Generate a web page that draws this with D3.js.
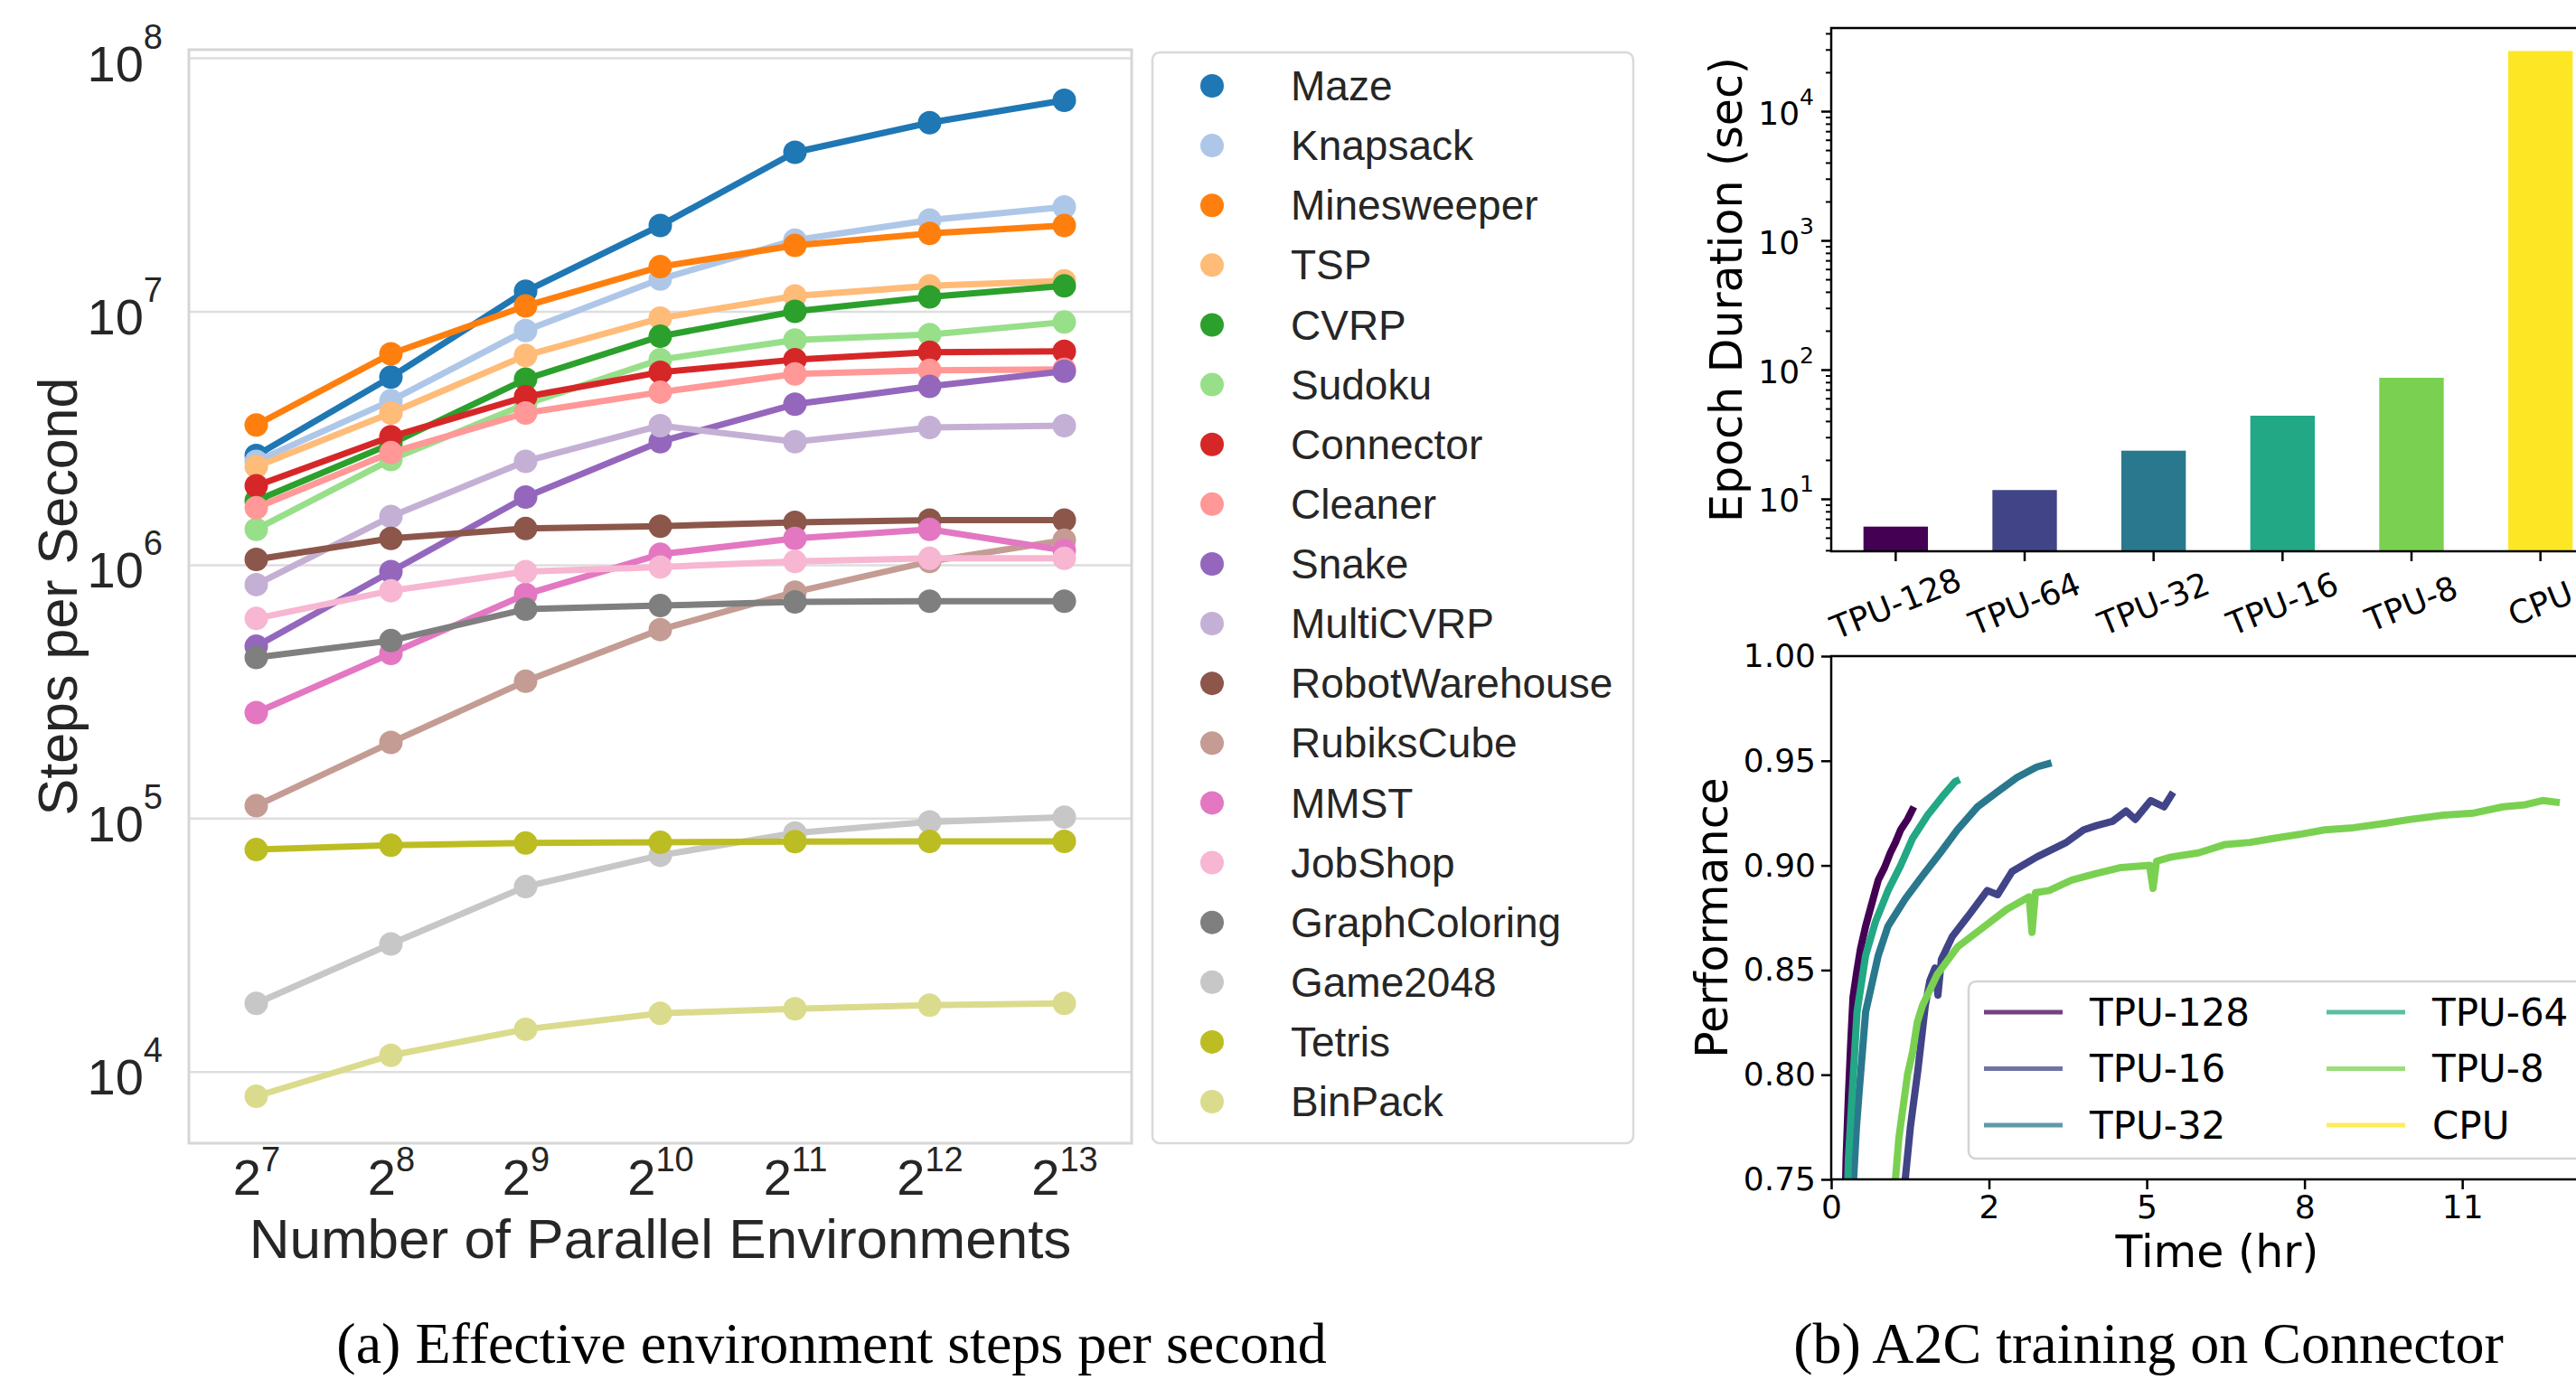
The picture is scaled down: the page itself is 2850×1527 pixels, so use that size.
<!DOCTYPE html>
<html>
<head>
<meta charset="utf-8">
<script src="https://cdn.jsdelivr.net/npm/d3@7"></script>
<style>
  body { margin: 0; background: #fff; }
  svg { display: block; }
</style>
</head>
<body>
<svg id="fig" width="2850" height="1527"></svg>
<script>
// ---------- (a) steps per second ----------
var envExp = [7, 8, 9, 10, 11, 12, 13];
var envNames = ["Maze", "Knapsack", "Minesweeper", "TSP", "CVRP", "Sudoku", "Connector", "Cleaner",
    "Snake", "MultiCVRP", "RobotWarehouse", "RubiksCube", "MMST", "JobShop", "GraphColoring",
    "Game2048", "Tetris", "BinPack"];
var envColors = ["#1f77b4", "#aec7e8", "#ff7f0e", "#ffbb78", "#2ca02c", "#98df8a", "#d62728", "#ff9896",
    "#9467bd", "#c5b0d5", "#8c564b", "#c49c94", "#e377c2", "#f7b6d2", "#7f7f7f", "#c7c7c7", "#bcbd22", "#dbdb8d"];

var maze           = [2.7e6, 5.5e6, 1.2e7, 2.18e7, 4.24e7, 5.55e7, 6.8e7];
var knapsack       = [2.56e6, 4.44e6, 8.4e6, 1.34e7, 1.91e7, 2.29e7, 2.58e7];
var minesweeper    = [3.56e6, 6.8e6, 1.05e7, 1.5e7, 1.82e7, 2.03e7, 2.18e7];
var tsp            = [2.44e6, 3.97e6, 6.7e6, 9.4e6, 1.15e7, 1.26e7, 1.32e7];
var cvrp           = [1.79e6, 3.0e6, 5.4e6, 7.97e6, 1.0e7, 1.14e7, 1.26e7];
var sudoku         = [1.38e6, 2.6e6, 4.3e6, 6.45e6, 7.7e6, 8.1e6, 9.07e6];
var connector      = [2.05e6, 3.2e6, 4.6e6, 5.75e6, 6.45e6, 6.9e6, 6.95e6];
var cleaner        = [1.68e6, 2.77e6, 3.97e6, 4.8e6, 5.66e6, 5.85e6, 5.9e6];
var snake          = [4.77e5, 9.4e5, 1.85e6, 3.06e6, 4.3e6, 5.06e6, 5.8e6];
var multiCvrp      = [8.35e5, 1.55e6, 2.56e6, 3.54e6, 3.06e6, 3.48e6, 3.54e6];
var robotWarehouse = [1.05e6, 1.27e6, 1.39e6, 1.42e6, 1.47e6, 1.5e6, 1.5e6];
var rubiksCube     = [1.12e5, 1.99e5, 3.47e5, 5.55e5, 7.8e5, 1.03e6, 1.25e6];
var mmst           = [2.61e5, 4.47e5, 7.64e5, 1.1e6, 1.27e6, 1.38e6, 1.14e6];
var jobShop        = [6.14e5, 7.9e5, 9.4e5, 9.8e5, 1.03e6, 1.06e6, 1.06e6];
var graphColoring  = [4.31e5, 5.02e5, 6.68e5, 6.9e5, 7.14e5, 7.18e5, 7.18e5];
var game2048       = [1.86e4, 3.19e4, 5.37e4, 7.14e4, 8.75e4, 9.67e4, 1.01e5];
var tetris         = [7.52e4, 7.82e4, 7.98e4, 8.04e4, 8.09e4, 8.1e4, 8.1e4];
var binPack        = [8.0e3, 1.16e4, 1.47e4, 1.7e4, 1.77e4, 1.83e4, 1.86e4];

var envSeries = [maze, knapsack, minesweeper, tsp, cvrp, sudoku, connector, cleaner, snake, multiCvrp,
    robotWarehouse, rubiksCube, mmst, jobShop, graphColoring, game2048, tetris, binPack];
var yTicksA = [1e4, 1e5, 1e6, 1e7, 1e8];

// ---------- (b) A2C on Connector ----------
var devices = ["TPU-128", "TPU-64", "TPU-32", "TPU-16", "TPU-8", "CPU"];
var epochSec = [6.1, 11.7, 23.6, 44, 86.5, 29200];
var barColors = ["#440154", "#414487", "#2a788e", "#22a884", "#7ad151", "#fde725"];

// curves, in legend order: TPU-128, TPU-16, TPU-32, TPU-64, TPU-8, CPU  [hours, performance]
var curveNames = ["TPU-128", "TPU-16", "TPU-32", "TPU-64", "TPU-8", "CPU"];
var curveColors = ["#440154", "#414487", "#2a788e", "#22a884", "#7ad151", "#fde725"];
var tpu128 = [[0.24, 0.735], [0.26, 0.76], [0.30, 0.79], [0.34, 0.815], [0.38, 0.837], [0.45, 0.85],
    [0.51, 0.86], [0.60, 0.871], [0.69, 0.88], [0.82, 0.893], [0.93, 0.899], [1.03, 0.906],
    [1.12, 0.911], [1.21, 0.917], [1.33, 0.922], [1.44, 0.928]];
var tpu16 = [[1.27, 0.74], [1.29, 0.75], [1.38, 0.775], [1.51, 0.802], [1.64, 0.833], [1.72, 0.845],
    [1.81, 0.851], [1.86, 0.838], [1.92, 0.855], [2.11, 0.866], [2.42, 0.877], [2.72, 0.888],
    [2.90, 0.886], [3.15, 0.897], [3.58, 0.904], [4.10, 0.911], [4.40, 0.917], [4.62, 0.919],
    [4.90, 0.921], [5.14, 0.926], [5.30, 0.922], [5.57, 0.931], [5.80, 0.928], [5.96, 0.935]];
var tpu32 = [[0.37, 0.74], [0.39, 0.75], [0.44, 0.775], [0.49, 0.793], [0.60, 0.83], [0.82, 0.857],
    [0.99, 0.871], [1.29, 0.884], [1.59, 0.895], [1.90, 0.906], [2.20, 0.917], [2.55, 0.928],
    [2.89, 0.935], [3.24, 0.942], [3.58, 0.947], [3.84, 0.949]];
var tpu64 = [[0.28, 0.74], [0.30, 0.76], [0.37, 0.793], [0.45, 0.83], [0.60, 0.857], [0.77, 0.873],
    [0.99, 0.888], [1.21, 0.90], [1.42, 0.913], [1.68, 0.924], [1.94, 0.933], [2.16, 0.94], [2.24, 0.941]];
var tpu8 = [[1.10, 0.74], [1.12, 0.75], [1.18, 0.77], [1.25, 0.784], [1.33, 0.80], [1.42, 0.811],
    [1.50, 0.825], [1.59, 0.833], [1.85, 0.848], [2.20, 0.861], [2.63, 0.87], [3.06, 0.879],
    [3.45, 0.885], [3.50, 0.868], [3.56, 0.887], [3.80, 0.888], [4.19, 0.893], [4.60, 0.896],
    [5.05, 0.899], [5.55, 0.90], [5.61, 0.889], [5.67, 0.902], [5.92, 0.904], [6.40, 0.906],
    [6.87, 0.91], [7.30, 0.911], [7.73, 0.913], [8.20, 0.915], [8.60, 0.917], [9.10, 0.918],
    [9.63, 0.92], [10.10, 0.922], [10.67, 0.924], [11.20, 0.925], [11.71, 0.928], [12.10, 0.929],
    [12.40, 0.931], [12.70, 0.93]];
var cpu = [];
var curves = [tpu128, tpu16, tpu32, tpu64, tpu8, cpu];
var xTicksB = [0, 2.75, 5.5, 8.25, 11];
var yTicksB = [0.75, 0.80, 0.85, 0.90, 0.95, 1.00];

var svg = d3.select('#fig');
svg.append('rect').attr('width', 2850).attr('height', 1527).attr('fill', 'white');

var sans = 'Liberation Sans, Arial, sans-serif';
var dejavu = 'DejaVu Sans, sans-serif';

function puissance(texte, base, exposant, taille, tailleExp, dyBase, dyExp) {
    texte.text(null).attr('dy', null);
    texte.append('tspan').attr('font-size', taille).attr('dy', dyBase).text(base);
    texte.append('tspan').attr('font-size', tailleExp).attr('dy', dyExp).text(exposant);
}

// ===== panel (a) =====
var cadreA = {gauche: 209, droite: 1252, haut: 55, bas: 1265};
var xScale = d3.scaleLinear().domain([6.5, 13.5]).range([cadreA.gauche, cadreA.droite]);
var yScale = d3.scaleLog().domain([5220, 1.077e8]).range([cadreA.bas, cadreA.haut]);

var yAxisA = g => g
    .attr('transform', `translate(${cadreA.gauche},0)`)
    .call(d3.axisLeft(yScale).tickValues(yTicksA).tickSize(-(cadreA.droite - cadreA.gauche)).tickPadding(29).tickFormat(''))
    .call(g => g.select('.domain').remove())
    .call(g => g.selectAll('.tick line').attr('stroke', '#dedede').attr('stroke-width', 2.5))
    .call(g => g.selectAll('.tick text')
        .attr('fill', '#262626').attr('font-family', sans)
        .each(function(d) { puissance(d3.select(this), '10', Math.round(Math.log10(d)), 56, 38, 25, -36); }));

var xAxisA = g => g
    .attr('transform', `translate(0,${cadreA.bas})`)
    .call(d3.axisBottom(xScale).tickValues(envExp).tickSize(0).tickFormat(''))
    .call(g => g.select('.domain').remove())
    .call(g => g.selectAll('.tick text')
        .attr('fill', '#262626').attr('font-family', sans).attr('y', 0)
        .each(function(d) { puissance(d3.select(this), '2', d, 56, 38, 57, -26); }));

svg.append('g').call(yAxisA);
svg.append('g').call(xAxisA);

svg.append('rect')
    .attr('x', cadreA.gauche).attr('y', cadreA.haut)
    .attr('width', cadreA.droite - cadreA.gauche).attr('height', cadreA.bas - cadreA.haut)
    .attr('fill', 'none').attr('stroke', '#d6d6d6').attr('stroke-width', 3);

var ligneA = d3.line()
    .x((d, i) => xScale(envExp[i]))
    .y(d => yScale(d));

var groupes = svg.append('g')
    .selectAll('g')
    .data(envSeries)
    .enter()
    .append('g');

groupes.append('path')
    .attr('d', d => ligneA(d))
    .attr('fill', 'none')
    .attr('stroke', (d, i) => envColors[i])
    .attr('stroke-width', 7)
    .attr('stroke-linejoin', 'round');

groupes.selectAll('circle')
    .data((d, i) => d.map((v, j) => ({v: v, j: j, c: envColors[i]})))
    .enter()
    .append('circle')
    .attr('cx', d => xScale(envExp[d.j]))
    .attr('cy', d => yScale(d.v))
    .attr('r', 13)
    .attr('fill', d => d.c);

svg.append('text')
    .attr('transform', `translate(64,${(cadreA.haut + cadreA.bas) / 2}) rotate(-90)`)
    .attr('text-anchor', 'middle').attr('dy', '0.35em')
    .attr('font-family', sans).attr('font-size', 61).attr('fill', '#262626')
    .text('Steps per Second');

svg.append('text')
    .attr('x', (cadreA.gauche + cadreA.droite) / 2).attr('y', 1392)
    .attr('text-anchor', 'middle')
    .attr('font-family', sans).attr('font-size', 62).attr('fill', '#262626')
    .text('Number of Parallel Environments');

// legend (a)
var yLegA = d3.scalePoint().domain(envNames).range([95, 1219]);
svg.append('rect')
    .attr('x', 1275).attr('y', 58).attr('width', 532).attr('height', 1207).attr('rx', 8)
    .attr('fill', 'white').attr('stroke', '#d9d9d9').attr('stroke-width', 2.5);
var legA = svg.append('g').selectAll('g').data(envNames).enter().append('g')
    .attr('transform', d => `translate(0,${yLegA(d)})`);
legA.append('circle').attr('cx', 1341).attr('cy', 0).attr('r', 13).attr('fill', (d, i) => envColors[i]);
legA.append('text').attr('x', 1428).attr('dy', '0.35em')
    .attr('font-family', sans).attr('font-size', 46).attr('fill', '#262626')
    .text(d => d);

// ===== panel (b) top: bars =====
var cadreB = {gauche: 2026, droite: 2882, haut: 31, bas: 610};
var xDev = d3.scaleBand().domain(devices).range([cadreB.gauche, cadreB.droite]).paddingInner(0.5).paddingOuter(0.25);
var yDur = d3.scaleLog().domain([3.93, 4.4e4]).range([cadreB.bas, cadreB.haut]);

svg.append('g')
    .selectAll('rect')
    .data(epochSec)
    .enter()
    .append('rect')
    .attr('x', (d, i) => xDev(devices[i]))
    .attr('width', xDev.bandwidth())
    .attr('y', d => yDur(d))
    .attr('height', d => cadreB.bas - yDur(d))
    .attr('fill', (d, i) => barColors[i]);

var mineurs = yDur.ticks().filter(v => Math.abs(Math.log10(v) - Math.round(Math.log10(v))) > 1e-6);
svg.append('g')
    .attr('transform', `translate(${cadreB.gauche},0)`)
    .call(d3.axisLeft(yDur).tickValues(mineurs).tickSize(6).tickFormat(''))
    .call(g => g.select('.domain').remove())
    .call(g => g.selectAll('.tick line').attr('stroke', '#000').attr('stroke-width', 2));

svg.append('g')
    .attr('transform', `translate(${cadreB.gauche},0)`)
    .call(d3.axisLeft(yDur).tickValues([10, 100, 1000, 10000]).tickSize(11).tickPadding(8).tickFormat(''))
    .call(g => g.select('.domain').remove())
    .call(g => g.selectAll('.tick line').attr('stroke', '#000').attr('stroke-width', 2.5))
    .call(g => g.selectAll('.tick text')
        .attr('fill', '#000').attr('font-family', dejavu)
        .each(function(d) { puissance(d3.select(this), '10', Math.round(Math.log10(d)), 36, 25, 14, -22); }));

svg.append('g')
    .attr('transform', `translate(0,${cadreB.bas})`)
    .call(d3.axisBottom(xDev).tickSize(11))
    .call(g => g.select('.domain').remove())
    .call(g => g.selectAll('.tick line').attr('stroke', '#000').attr('stroke-width', 2.5))
    .call(g => g.selectAll('.tick text')
        .attr('fill', '#000').attr('font-family', dejavu).attr('font-size', 36)
        .attr('y', 0).attr('dy', '0.35em').attr('text-anchor', 'middle')
        .attr('transform', 'translate(0,58) rotate(-22)'));

svg.append('rect')
    .attr('x', cadreB.gauche).attr('y', cadreB.haut)
    .attr('width', cadreB.droite - cadreB.gauche).attr('height', cadreB.bas - cadreB.haut)
    .attr('fill', 'none').attr('stroke', '#000').attr('stroke-width', 2.5);

svg.append('text')
    .attr('transform', `translate(1910,${(cadreB.haut + cadreB.bas) / 2}) rotate(-90)`)
    .attr('text-anchor', 'middle').attr('dy', '0.35em')
    .attr('font-family', dejavu).attr('font-size', 49).attr('fill', '#000')
    .text('Epoch Duration (sec)');

// ===== panel (b) bottom: curves =====
var cadreC = {gauche: 2026, droite: 2886, haut: 726, bas: 1305};
var xTemps = d3.scaleLinear().domain([0, 13.55]).range([cadreC.gauche, cadreC.droite]);
var yPerf = d3.scaleLinear().domain([0.75, 1.0]).range([cadreC.bas, cadreC.haut]);

svg.append('clipPath').attr('id', 'clipC')
    .append('rect')
    .attr('x', cadreC.gauche).attr('y', cadreC.haut)
    .attr('width', cadreC.droite - cadreC.gauche).attr('height', cadreC.bas - cadreC.haut);

var ligneC = d3.line().x(d => xTemps(d[0])).y(d => yPerf(d[1]));
svg.append('g').attr('clip-path', 'url(#clipC)')
    .selectAll('path')
    .data(curves)
    .enter()
    .append('path')
    .attr('d', d => d.length ? ligneC(d) : null)
    .attr('fill', 'none')
    .attr('stroke', (d, i) => curveColors[i])
    .attr('stroke-width', 8)
    .attr('stroke-linejoin', 'round');

svg.append('g')
    .attr('transform', `translate(${cadreC.gauche},0)`)
    .call(d3.axisLeft(yPerf).tickValues(yTicksB).tickSize(11).tickPadding(6).tickFormat(d3.format('.2f')))
    .call(g => g.select('.domain').remove())
    .call(g => g.selectAll('.tick line').attr('stroke', '#000').attr('stroke-width', 2.5))
    .call(g => g.selectAll('.tick text').attr('fill', '#000').attr('font-family', dejavu).attr('font-size', 36));

svg.append('g')
    .attr('transform', `translate(0,${cadreC.bas})`)
    .call(d3.axisBottom(xTemps).tickValues(xTicksB).tickSize(11).tickPadding(6).tickFormat(d => Math.floor(d)))
    .call(g => g.select('.domain').remove())
    .call(g => g.selectAll('.tick line').attr('stroke', '#000').attr('stroke-width', 2.5))
    .call(g => g.selectAll('.tick text').attr('fill', '#000').attr('font-family', dejavu).attr('font-size', 36));

svg.append('rect')
    .attr('x', cadreC.gauche).attr('y', cadreC.haut)
    .attr('width', cadreC.droite - cadreC.gauche).attr('height', cadreC.bas - cadreC.haut)
    .attr('fill', 'none').attr('stroke', '#000').attr('stroke-width', 2.5);

svg.append('text')
    .attr('transform', `translate(1894,${(cadreC.haut + cadreC.bas) / 2}) rotate(-90)`)
    .attr('text-anchor', 'middle').attr('dy', '0.35em')
    .attr('font-family', dejavu).attr('font-size', 49).attr('fill', '#000')
    .text('Performance');

svg.append('text')
    .attr('x', 2453).attr('y', 1385).attr('dy', '0.35em')
    .attr('text-anchor', 'middle')
    .attr('font-family', dejavu).attr('font-size', 49).attr('fill', '#000')
    .text('Time (hr)');

// legend (b)
svg.append('rect')
    .attr('x', 2178).attr('y', 1086).attr('width', 720).attr('height', 196).attr('rx', 8)
    .attr('fill', 'white').attr('fill-opacity', 0.8).attr('stroke', '#d4d4d4').attr('stroke-width', 2.5);
var legB = svg.append('g').selectAll('g').data(curveNames).enter().append('g')
    .attr('transform', (d, i) => `translate(${i < 3 ? 2195 : 2574},${1120 + (i % 3) * 62.5})`);
legB.append('line').attr('x1', 0).attr('x2', 87)
    .attr('stroke', (d, i) => curveColors[i]).attr('stroke-width', 5).attr('stroke-opacity', 0.75);
legB.append('text').attr('x', 117).attr('dy', '0.35em')
    .attr('font-family', dejavu).attr('font-size', 42).attr('fill', '#000')
    .text(d => d);

// captions
svg.append('text')
    .attr('x', 920).attr('y', 1508).attr('text-anchor', 'middle')
    .attr('font-family', 'Liberation Serif, Times New Roman, serif').attr('font-size', 64).attr('fill', '#000')
    .text('(a) Effective environment steps per second');
svg.append('text')
    .attr('x', 2377).attr('y', 1508).attr('text-anchor', 'middle')
    .attr('font-family', 'Liberation Serif, Times New Roman, serif').attr('font-size', 64).attr('fill', '#000')
    .text('(b) A2C training on Connector');
</script>
</body>
</html>
